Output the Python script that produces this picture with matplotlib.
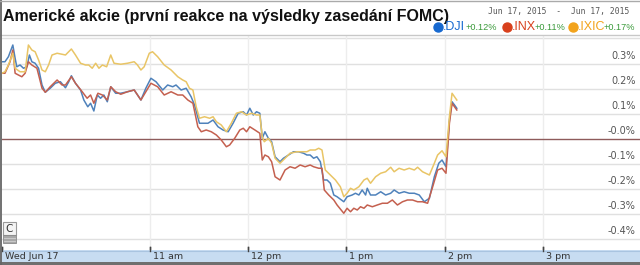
import matplotlib
matplotlib.use("Agg")
import matplotlib.pyplot as plt
from matplotlib.patches import Rectangle
from matplotlib.lines import Line2D

# ---- data: minutes after 9:30 ET, change in % ----
dji_t = [0, 1.8, 3.9, 6.6, 8.0, 9.0, 11.0, 13.1, 15.2, 16.7, 18.2, 20.2, 22.3, 24.4, 26.4, 29.4,
         32.5, 35.6, 38.7, 40.7, 42.3, 44.8, 47.9, 49.9, 52.3, 54.0, 56.0, 58.1, 60.1, 62.1, 64.2,
         66.3, 69.3, 72.4, 76.5, 80.6, 84.7, 87.7, 90.8, 93.9, 98.0, 101.0, 104.1, 106.1, 109.2,
         112.3, 115.3, 117.4, 120.4, 123.5, 125.6, 128.7, 131.7, 134.8, 137.9, 140.9, 144.0, 147.1,
         149.1, 151.1, 153.2, 155.2, 157.2, 158.7, 160.3, 162.4, 164.4, 166.5, 169.5, 171.6, 174.7,
         177.7, 180.8, 183.9, 185.9, 187.9, 190.0, 192.0, 194.1, 196.1, 198.2, 200.2, 202.3, 204.3,
         208.4, 210.4, 213.5, 215.5, 217.6, 219.6, 221.7, 222.7, 224.7, 227.8, 230.9, 233.9, 237.0,
         239.1, 242.1, 245.2, 248.3, 251.4, 254.4, 257.5, 260.6, 263.6, 266.3, 268.3, 270.7, 272.8,
         274.4, 275.9, 277.3]
dji_v = [0.307, 0.307, 0.327, 0.374, 0.321, 0.287, 0.294, 0.281, 0.287, 0.334, 0.307, 0.301, 0.281,
         0.214, 0.185, 0.201, 0.221, 0.227, 0.203, 0.227, 0.251, 0.221, 0.194, 0.154, 0.127, 0.141,
         0.110, 0.174, 0.161, 0.174, 0.147, 0.207, 0.181, 0.181, 0.187, 0.194, 0.154, 0.201, 0.241,
         0.227, 0.194, 0.214, 0.207, 0.214, 0.194, 0.201, 0.167, 0.134, 0.061, 0.061, 0.061, 0.074,
         0.047, 0.034, 0.027, 0.061, 0.101, 0.107, 0.094, 0.121, 0.094, 0.107, 0.101, 0.001, 0.027,
         0.001, -0.013, -0.073, -0.093, -0.079, -0.066, -0.053, -0.053, -0.059, -0.066, -0.066,
         -0.079, -0.073, -0.093, -0.166, -0.166, -0.179, -0.226, -0.233, -0.253, -0.233, -0.226,
         -0.219, -0.226, -0.206, -0.226, -0.199, -0.226, -0.226, -0.213, -0.226, -0.219, -0.206,
         -0.219, -0.213, -0.219, -0.219, -0.226, -0.253, -0.239, -0.153, -0.099, -0.086, -0.113,
         0.074, 0.147, 0.134, 0.121]

inx_t = [0, 1.8, 4.9, 6.6, 8.0, 10.0, 12.1, 14.1, 16.1, 18.2, 21.3, 24.4, 26.4, 29.4, 33.6, 36.6,
         38.7, 42.3, 44.8, 48.9, 51.9, 54.0, 56.0, 58.5, 61.2, 64.2, 66.3, 69.3, 72.4, 76.5, 80.6,
         84.7, 90.8, 94.9, 98.9, 103.1, 107.2, 110.2, 113.3, 116.4, 119.4, 121.5, 124.5, 127.6,
         130.7, 133.7, 136.8, 138.8, 141.9, 145.0, 147.1, 149.1, 151.1, 154.2, 157.2, 158.7, 160.3,
         162.4, 164.4, 166.5, 169.5, 172.6, 175.6, 178.7, 181.8, 184.8, 187.9, 190.0, 193.1, 195.1,
         196.5, 199.2, 202.3, 204.3, 208.4, 210.4, 212.5, 214.5, 216.6, 218.6, 220.7, 222.7, 225.8,
         228.8, 231.9, 235.0, 238.0, 241.1, 244.2, 247.2, 250.3, 253.4, 256.4, 259.5, 262.6, 265.6,
         268.3, 270.7, 272.8, 274.4, 275.9, 277.3]
inx_v = [0.261, 0.261, 0.307, 0.354, 0.261, 0.254, 0.247, 0.261, 0.307, 0.294, 0.281, 0.201, 0.185,
         0.207, 0.234, 0.214, 0.214, 0.247, 0.221, 0.187, 0.161, 0.174, 0.141, 0.181, 0.174, 0.154,
         0.207, 0.187, 0.177, 0.187, 0.194, 0.154, 0.221, 0.207, 0.174, 0.187, 0.174, 0.174, 0.154,
         0.141, 0.047, 0.027, 0.034, 0.027, 0.014, -0.006, -0.033, -0.026, 0.001, 0.034, 0.041,
         0.027, 0.047, 0.034, 0.021, -0.086, -0.066, -0.073, -0.093, -0.153, -0.166, -0.126,
         -0.113, -0.119, -0.106, -0.113, -0.106, -0.113, -0.119, -0.119, -0.206, -0.226, -0.246,
         -0.266, -0.299, -0.279, -0.293, -0.279, -0.286, -0.273, -0.279, -0.266, -0.273, -0.266,
         -0.259, -0.259, -0.246, -0.266, -0.253, -0.246, -0.246, -0.253, -0.253, -0.259, -0.193,
         -0.126, -0.119, -0.139, 0.061, 0.141, 0.127, 0.114]

ixic_t = [0, 1.8, 3.9, 6.6, 8.0, 11.0, 14.1, 16.1, 18.2, 20.2, 22.3, 24.4, 26.4, 28.4, 30.5, 33.6,
          36.6, 38.7, 42.3, 44.8, 47.9, 50.9, 52.9, 55.0, 57.1, 59.1, 61.2, 63.8, 66.3, 68.3, 72.4,
          76.5, 80.6, 82.6, 84.7, 86.7, 89.8, 91.8, 94.9, 98.9, 103.1, 107.2, 110.2, 112.3, 114.3,
          116.4, 118.4, 120.4, 123.5, 126.6, 128.7, 130.7, 133.7, 136.8, 139.8, 142.9, 146.0, 149.1,
          152.1, 155.2, 157.2, 158.7, 159.9, 162.4, 164.4, 166.5, 169.5, 172.6, 175.6, 179.8, 182.8,
          185.9, 187.9, 191.0, 193.1, 195.1, 197.1, 200.2, 203.3, 206.3, 208.4, 210.4, 212.5, 214.5,
          217.6, 220.7, 222.7, 224.7, 227.8, 230.9, 233.9, 237.0, 239.1, 242.1, 245.2, 248.3, 251.4,
          253.4, 256.4, 260.6, 263.6, 265.6, 268.3, 270.7, 272.8, 274.4, 275.9, 277.3]
ixic_v = [0.261, 0.267, 0.294, 0.341, 0.281, 0.267, 0.267, 0.374, 0.354, 0.347, 0.314, 0.274, 0.267,
          0.294, 0.334, 0.341, 0.337, 0.334, 0.358, 0.334, 0.301, 0.294, 0.294, 0.281, 0.301, 0.281,
          0.294, 0.287, 0.334, 0.301, 0.297, 0.301, 0.307, 0.294, 0.274, 0.287, 0.341, 0.347, 0.327,
          0.294, 0.274, 0.247, 0.234, 0.227, 0.201, 0.194, 0.127, 0.081, 0.087, 0.081, 0.087, 0.067,
          0.054, 0.027, 0.061, 0.101, 0.107, 0.094, 0.101, 0.094, 0.094, 0.007, -0.013, 0.001,
          -0.019, -0.079, -0.099, -0.079, -0.059, -0.053, -0.053, -0.053, -0.046, -0.046, -0.039,
          -0.046, -0.126, -0.146, -0.166, -0.193, -0.233, -0.219, -0.199, -0.206, -0.193, -0.166,
          -0.159, -0.179, -0.153, -0.139, -0.133, -0.115, -0.133, -0.119, -0.126, -0.119, -0.126,
          -0.115, -0.133, -0.146, -0.099, -0.066, -0.049, -0.073, 0.087, 0.181, 0.167, 0.154]

y_ticks = [0.4, 0.3, 0.2, 0.1, 0.0, -0.1, -0.2, -0.3, -0.4]
y_labels = ["0.4%", "0.3%", "0.2%", "0.1%", "-0.0%", "-0.1%", "-0.2%", "-0.3%", "-0.4%"]
x_ticks = [0, 90, 150, 210, 270, 330]
x_labels = ["Wed Jun 17", "11 am", "12 pm", "1 pm", "2 pm", "3 pm"]

title = "Americké akcie (první reakce na výsledky zasedání FOMC)"
date_range = "Jun 17, 2015  -  Jun 17, 2015"
legend_names = [".DJI", ".INX", ".IXIC"]
legend_changes = ["+0.12%", "+0.11%", "+0.17%"]

# ---- styles ----
W, H = 640, 265
line_cols = ["#4f82bb", "#c4604f", "#e9c566"]
legend_cols = ["#1769d0", "#d8401c", "#f2a31c"]
green = "#3a9a3a"

X0_PX, X1_PX = 2, 640
XMAX = 389.0


def fx(px):
    return px / W


def fy(py):
    return 1 - py / H


def tpx(t):
    return X0_PX + t / XMAX * (X1_PX - X0_PX)


fig = plt.figure(figsize=(W / 100, H / 100), dpi=100)
fig.patch.set_facecolor("white")

top_px, bot_px = 35, 250
ax = fig.add_axes([fx(X0_PX), fy(bot_px), fx(X1_PX) - fx(X0_PX), fy(top_px) - fy(bot_px)])
ax.set_xlim(0, XMAX)
ax.set_ylim(-0.446, 0.414)
ax.set_facecolor("white")
for s in ax.spines.values():
    s.set_visible(False)
ax.set_xticks([])
ax.set_yticks([])

for v in y_ticks:
    if abs(v) < 1e-9:
        continue
    ax.axhline(v, color="#e0e0e0", lw=1.0, zorder=1)
for t in x_ticks[1:]:
    ax.axvline(t, color="#ededed", lw=1.0, zorder=1)
ax.axhline(0.0, color="#8e5b5b", lw=1.0, zorder=2)

for t, v, c in [(dji_t, dji_v, line_cols[0]), (inx_t, inx_v, line_cols[1]),
                (ixic_t, ixic_v, line_cols[2])]:
    ax.plot(t, v, color=c, lw=1.1, zorder=3, solid_joinstyle="round")

for v, lab in zip(y_ticks, y_labels):
    txt = ax.annotate(lab, xy=(1.0, v), xycoords=("axes fraction", "data"),
                      xytext=(-3, 1.5), textcoords="offset points", ha="right", va="bottom",
                      fontsize=7, color="#555555", family="DejaVu Sans", zorder=4)
    txt.set_clip_on(True)
    txt.set_clip_box(ax.bbox)

for t in x_ticks:
    ax.plot([t, t], [0, 0.016], transform=ax.get_xaxis_transform(), color="#444444",
            lw=1.0, clip_on=False, zorder=5)

# ---- header ----
fig.text(fx(3), fy(17), title, fontsize=11.55, family="Liberation Sans", weight="bold",
         color="#111111", ha="left", va="center")
fig.text(fx(629), fy(11.5), date_range, fontsize=5.8, family="DejaVu Sans Mono",
         color="#555555", ha="right", va="center")

leg_dot_x = [438, 507, 573]
leg_name_x = [443, 512, 578]
leg_chg_x = [466, 535, 604]
for i in range(3):
    fig.add_artist(Line2D([fx(leg_dot_x[i])], [fy(26.5)], marker="o", markersize=6.5,
                          color=legend_cols[i], transform=fig.transFigure))
    fig.text(fx(leg_name_x[i]), fy(26.5), legend_names[i], fontsize=9, family="Liberation Sans",
             color=legend_cols[i], ha="left", va="center")
    fig.text(fx(leg_chg_x[i]), fy(27.5), legend_changes[i], fontsize=6.6,
             family="Liberation Sans", color=green, ha="left", va="center")

# top border of chart
fig.add_artist(Line2D([fx(0), fx(640)], [fy(35), fy(35)], color="#c8c8c8", lw=1.0,
                      transform=fig.transFigure))

# ---- bottom band ----
fig.add_artist(Rectangle((0, fy(262)), 1, fy(250) - fy(262), transform=fig.transFigure,
                         facecolor="#c7dcf1", edgecolor="none", zorder=0.5))
fig.add_artist(Line2D([0, 1], [fy(250.5), fy(250.5)], color="#a9c4e0", lw=0.8,
                      transform=fig.transFigure, zorder=0.6))
fig.add_artist(Rectangle((0, 0), 1, fy(262), transform=fig.transFigure,
                         facecolor="#6f6f6f", edgecolor="none", zorder=0.5))
for t, lab in zip(x_ticks, x_labels):
    fig.text(fx(tpx(t) + 3), fy(256.5), lab, ha="left", va="center", fontsize=6.8,
             family="DejaVu Sans", color="#333333", zorder=5)
    fig.add_artist(Line2D([fx(tpx(t)), fx(tpx(t))], [fy(247), fy(251)], color="#444444",
                          lw=1.0, transform=fig.transFigure, zorder=5))

# ---- "C" button ----
fig.add_artist(Rectangle((fx(3), fy(235)), fx(13), fy(222) - fy(235), transform=fig.transFigure,
                         facecolor="#f4f4f4", edgecolor="#9a9a9a", lw=0.8, zorder=4))
fig.text(fx(9.5), fy(228.5), "C", fontsize=7.5, family="DejaVu Sans", color="#333333",
         ha="center", va="center", zorder=5)
fig.add_artist(Rectangle((fx(3), fy(243)), fx(13), fy(235) - fy(243), transform=fig.transFigure,
                         facecolor="#a8a8a8", edgecolor="#8a8a8a", lw=0.6, zorder=4))
for yy in [237.5, 240.5]:
    fig.add_artist(Line2D([fx(4), fx(15)], [fy(yy), fy(yy)], color="#d0d0d0", lw=0.6,
                          transform=fig.transFigure, zorder=5))

# frame
fig.add_artist(Line2D([fx(0.6), fx(0.6)], [0, 1], color="#666666", lw=1.3,
                      transform=fig.transFigure, zorder=6))
fig.add_artist(Line2D([0, 1], [fy(0.5), fy(0.5)], color="#aaaaaa", lw=1.0,
                      transform=fig.transFigure, zorder=6))

fig.savefig("out.png", dpi=100)
